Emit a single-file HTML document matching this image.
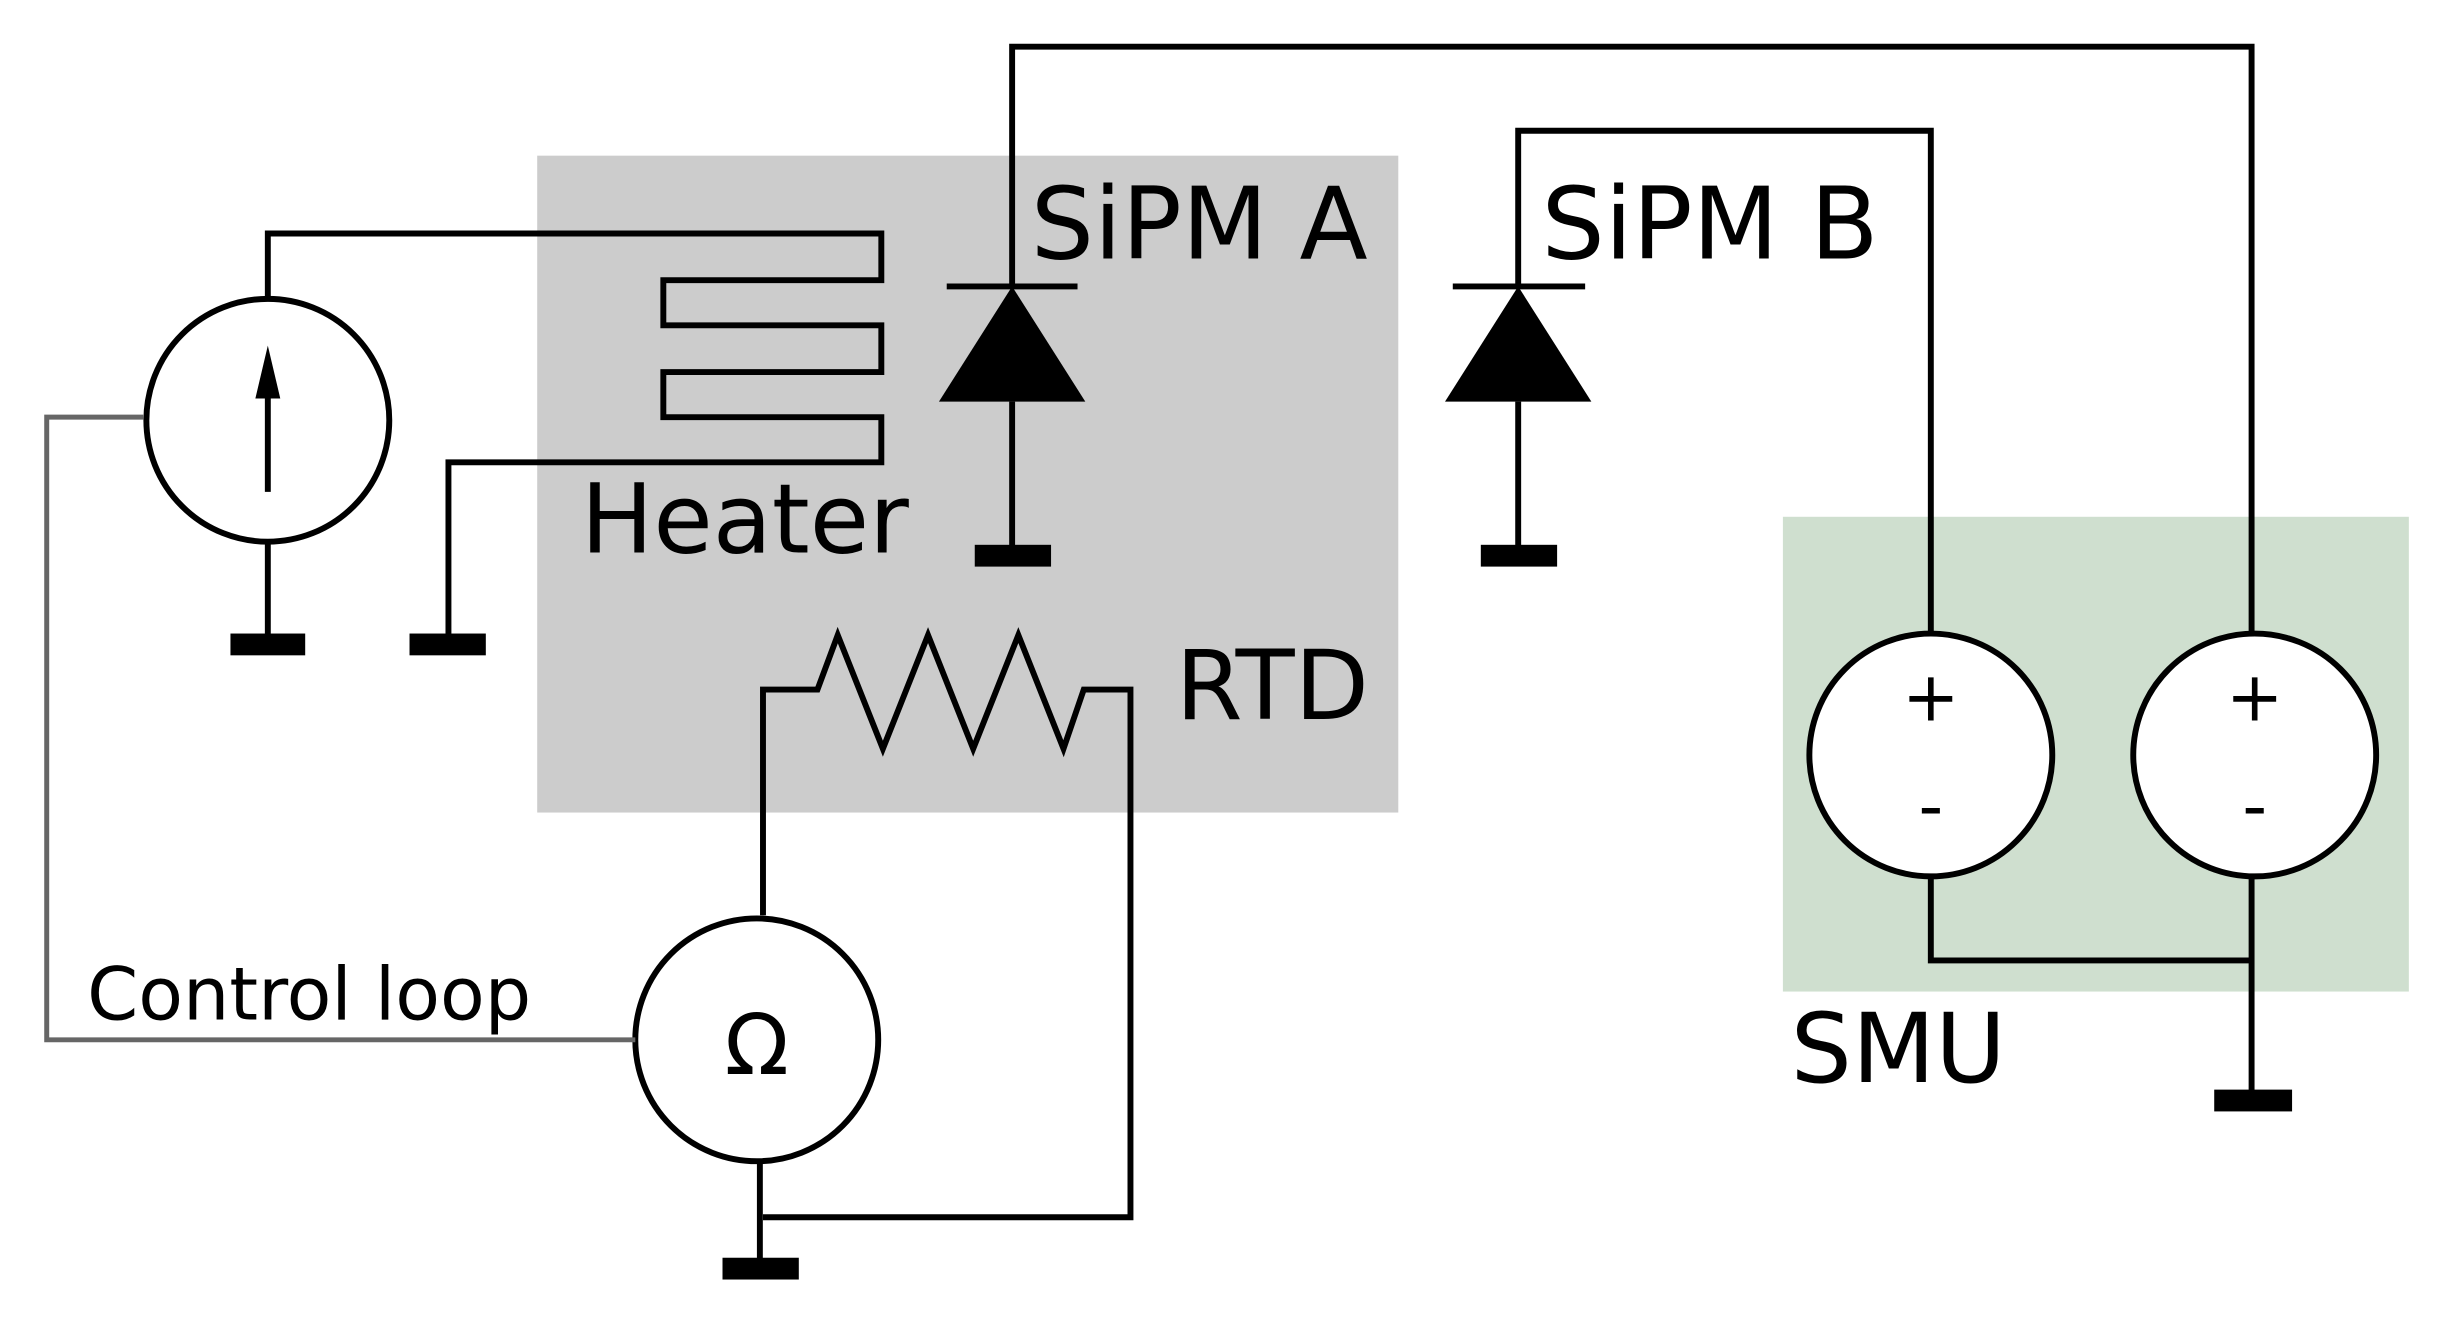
<!DOCTYPE html>
<html><head><meta charset="utf-8"><style>
html,body{margin:0;padding:0;background:#fff;}
svg{display:block;}
text{font-family:"DejaVu Sans","Liberation Sans",sans-serif;fill:#000;}
</style></head><body>
<svg width="2440" height="1320" viewBox="0 0 1567 848" preserveAspectRatio="none" xmlns="http://www.w3.org/2000/svg">
<rect x="345" y="100" width="553" height="422" fill="#cccccc"/>
<rect x="1145" y="332" width="402" height="305" fill="#cfdfcf"/>
<g fill="none" stroke="#000" stroke-width="3.8">
<circle cx="172" cy="270" r="78" fill="#fff"/>
<line x1="172" y1="316" x2="172" y2="245"/>
<polyline points="172,192 172,150 566,150 566,180 426,180 426,209 566,209 566,239 426,239 426,268 566,268 566,297 288,297 288,412"/>
<line x1="172" y1="348" x2="172" y2="412"/>
<polyline points="650,185 650,30 1446,30 1446,407"/>
<line x1="608" y1="184" x2="692" y2="184"/>
<line x1="650" y1="258" x2="650" y2="356"/>
<polyline points="975,185 975,84 1240,84 1240,407"/>
<line x1="933" y1="184" x2="1018" y2="184"/>
<line x1="975" y1="258" x2="975" y2="356"/>
<circle cx="1240" cy="485" r="78" fill="#fff"/>
<circle cx="1448" cy="485" r="78" fill="#fff"/>
<polyline points="1240,563 1240,617 1446,617"/>
<line x1="1446" y1="563" x2="1446" y2="705"/>
<polyline points="490,588 490,443 525,443 538,408 567,481 596,408 625,481 654,408 683,481 696,443 726,443 726,782 490,782"/>
<circle cx="486" cy="668" r="78" fill="#fff"/>
<line x1="488" y1="746" x2="488" y2="812"/>
</g>
<polyline points="92,268 30,268 30,668 408,668" fill="none" stroke="#666" stroke-width="3.2"/>
<g fill="#000">
<polygon points="172,222 164,256 180,256"/>
<polygon points="650,184 603,258 697,258"/>
<polygon points="975,184 928,258 1022,258"/>
<rect x="148" y="407" width="48" height="14"/>
<rect x="263" y="407" width="49" height="14"/>
<rect x="626" y="350" width="49" height="14"/>
<rect x="951" y="350" width="49" height="14"/>
<rect x="1422" y="700" width="50" height="14"/>
<rect x="464" y="808" width="49" height="14"/>
</g>
<text x="662" y="166" font-size="64">SiPM A</text>
<text x="990" y="166" font-size="64">SiPM B</text>
<text x="373" y="355" font-size="62">Heater</text>
<text x="755" y="462" font-size="62">RTD</text>
<text x="1150" y="695" font-size="62">SMU</text>
<text x="56" y="655" font-size="47">Control loop</text>
<text x="486" y="690" font-size="54" text-anchor="middle">Ω</text>
<text x="1240" y="463" font-size="44" text-anchor="middle">+</text>
<text x="1240" y="533" font-size="44" text-anchor="middle">-</text>
<text x="1448" y="463" font-size="44" text-anchor="middle">+</text>
<text x="1448" y="533" font-size="44" text-anchor="middle">-</text>
</svg>
</body></html>
